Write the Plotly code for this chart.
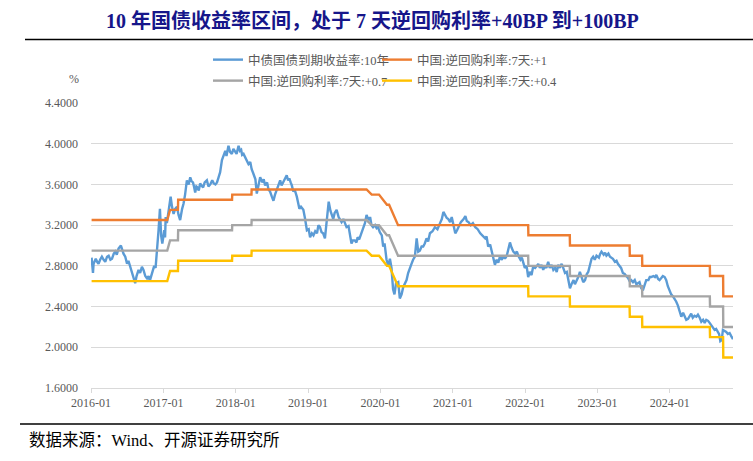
import plotly.graph_objects as go

# ---------------- data ----------------
title_text = "10 年国债收益率区间，处于 7 天逆回购利率+40BP 到+100BP"
source_text = "数据来源：Wind、开源证券研究所"

series_names = ["中债国债到期收益率:10年", "中国:逆回购利率:7天:+1",
                "中国:逆回购利率:7天:+0.7", "中国:逆回购利率:7天:+0.4"]
series_colors = ["#5b9bd5", "#ed7d31", "#a5a5a5", "#ffc000"]
repo_spreads = [1.0, 0.7, 0.4]

# 10Y CGB yield (date, %)
yield_2016 = [
    ("2016-01-04", 2.88), ("2016-01-08", 2.80), ("2016-01-11", 2.73), ("2016-01-14", 2.82),
    ("2016-01-18", 2.84), ("2016-01-25", 2.87), ("2016-02-01", 2.84), ("2016-02-08", 2.82),
    ("2016-02-16", 2.86), ("2016-02-25", 2.89), ("2016-03-05", 2.86), ("2016-03-13", 2.84),
    ("2016-03-22", 2.89), ("2016-03-30", 2.90), ("2016-04-08", 2.86), ("2016-04-16", 2.87),
    ("2016-04-25", 2.92), ("2016-05-03", 2.94), ("2016-05-10", 2.91), ("2016-05-19", 2.97),
    ("2016-05-31", 3.00), ("2016-06-06", 2.95), ("2016-06-13", 2.92), ("2016-06-22", 2.89),
    ("2016-07-01", 2.82), ("2016-07-08", 2.85), ("2016-07-17", 2.79), ("2016-07-25", 2.76),
    ("2016-08-03", 2.69), ("2016-08-11", 2.63), ("2016-08-18", 2.70), ("2016-08-28", 2.76),
    ("2016-09-05", 2.73), ("2016-09-14", 2.79), ("2016-09-22", 2.76), ("2016-10-01", 2.70),
    ("2016-10-12", 2.67), ("2016-10-18", 2.70), ("2016-10-25", 2.66), ("2016-11-04", 2.73),
    ("2016-11-15", 2.80), ("2016-11-22", 2.78), ("2016-11-29", 2.92), ("2016-12-07", 3.15),
    ("2016-12-14", 3.36), ("2016-12-20", 3.10), ("2016-12-26", 3.02),
]
yield_2017 = [
    ("2017-01-05", 3.15), ("2017-01-09", 3.08), ("2017-01-12", 3.28), ("2017-01-18", 3.22),
    ("2017-01-25", 3.32), ("2017-02-01", 3.40), ("2017-02-06", 3.48), ("2017-02-13", 3.38),
    ("2017-02-21", 3.31), ("2017-03-01", 3.36), ("2017-03-10", 3.38), ("2017-03-18", 3.30),
    ("2017-03-26", 3.25), ("2017-04-05", 3.36), ("2017-04-12", 3.41), ("2017-04-20", 3.50),
    ("2017-04-29", 3.64), ("2017-05-08", 3.60), ("2017-05-16", 3.67), ("2017-05-23", 3.63),
    ("2017-05-30", 3.62), ("2017-06-05", 3.57), ("2017-06-10", 3.52), ("2017-06-16", 3.58),
    ("2017-06-22", 3.57), ("2017-06-28", 3.54), ("2017-07-05", 3.61), ("2017-07-12", 3.59),
    ("2017-07-20", 3.57), ("2017-07-28", 3.62), ("2017-08-08", 3.64), ("2017-08-16", 3.58),
    ("2017-08-25", 3.60), ("2017-09-04", 3.64), ("2017-09-12", 3.61), ("2017-09-20", 3.60),
    ("2017-09-28", 3.62), ("2017-10-06", 3.67), ("2017-10-14", 3.72), ("2017-10-23", 3.84),
    ("2017-11-01", 3.88), ("2017-11-09", 3.93), ("2017-11-15", 3.88), ("2017-11-25", 3.98),
    ("2017-12-03", 3.92), ("2017-12-12", 3.90), ("2017-12-20", 3.95), ("2017-12-28", 3.93),
]
yield_2018 = [
    ("2018-01-05", 3.90), ("2018-01-15", 3.98), ("2018-01-22", 3.93), ("2018-01-28", 3.94),
    ("2018-02-02", 3.89), ("2018-02-09", 3.90), ("2018-02-20", 3.85), ("2018-03-06", 3.80),
    ("2018-03-15", 3.82), ("2018-03-22", 3.75), ("2018-03-30", 3.71), ("2018-04-10", 3.65),
    ("2018-04-17", 3.51), ("2018-04-22", 3.56), ("2018-04-28", 3.62), ("2018-05-04", 3.67),
    ("2018-05-15", 3.62), ("2018-05-22", 3.65), ("2018-05-29", 3.59), ("2018-06-08", 3.62),
    ("2018-06-15", 3.55), ("2018-06-23", 3.53), ("2018-07-02", 3.48), ("2018-07-10", 3.44),
    ("2018-07-18", 3.50), ("2018-07-26", 3.54), ("2018-08-05", 3.60), ("2018-08-13", 3.64),
    ("2018-08-20", 3.59), ("2018-08-28", 3.62), ("2018-09-07", 3.65), ("2018-09-15", 3.69),
    ("2018-09-22", 3.64), ("2018-09-28", 3.66), ("2018-10-05", 3.62), ("2018-10-11", 3.59),
    ("2018-10-18", 3.53), ("2018-10-25", 3.55), ("2018-11-05", 3.48), ("2018-11-12", 3.43),
    ("2018-11-18", 3.36), ("2018-11-26", 3.38), ("2018-12-08", 3.35), ("2018-12-16", 3.27),
    ("2018-12-26", 3.15),
]
yield_2019 = [
    ("2019-01-04", 3.16), ("2019-01-11", 3.08), ("2019-01-20", 3.12), ("2019-01-28", 3.10),
    ("2019-02-06", 3.14), ("2019-02-15", 3.12), ("2019-02-22", 3.20), ("2019-03-02", 3.18),
    ("2019-03-10", 3.13), ("2019-03-18", 3.12), ("2019-03-27", 3.07), ("2019-04-05", 3.25),
    ("2019-04-10", 3.33), ("2019-04-15", 3.43), ("2019-04-24", 3.34), ("2019-05-01", 3.30),
    ("2019-05-08", 3.26), ("2019-05-15", 3.32), ("2019-05-25", 3.35), ("2019-06-04", 3.28),
    ("2019-06-12", 3.25), ("2019-06-19", 3.23), ("2019-06-28", 3.26), ("2019-07-06", 3.22),
    ("2019-07-14", 3.18), ("2019-07-24", 3.19), ("2019-08-01", 3.10), ("2019-08-08", 3.02),
    ("2019-08-15", 3.05), ("2019-08-25", 3.05), ("2019-09-02", 3.03), ("2019-09-08", 3.08),
    ("2019-09-16", 3.06), ("2019-09-25", 3.12), ("2019-10-06", 3.17), ("2019-10-15", 3.22),
    ("2019-10-23", 3.30), ("2019-10-29", 3.27), ("2019-11-05", 3.25), ("2019-11-10", 3.28),
    ("2019-11-17", 3.20), ("2019-11-25", 3.18), ("2019-12-05", 3.20), ("2019-12-13", 3.17),
    ("2019-12-20", 3.18), ("2019-12-29", 3.13),
]
yield_2020 = [
    ("2020-01-08", 3.10), ("2020-01-15", 2.99), ("2020-01-22", 3.02), ("2020-02-01", 2.86),
    ("2020-02-10", 2.80), ("2020-02-18", 2.87), ("2020-02-26", 2.78), ("2020-03-05", 2.57),
    ("2020-03-12", 2.52), ("2020-03-20", 2.63), ("2020-03-31", 2.64), ("2020-04-08", 2.48),
    ("2020-04-17", 2.52), ("2020-04-25", 2.59), ("2020-05-03", 2.63), ("2020-05-12", 2.66),
    ("2020-05-20", 2.73), ("2020-05-29", 2.79), ("2020-06-06", 2.82), ("2020-06-14", 2.86),
    ("2020-06-23", 2.89), ("2020-07-02", 3.07), ("2020-07-10", 2.94), ("2020-07-18", 2.95),
    ("2020-07-27", 2.99), ("2020-08-04", 2.99), ("2020-08-12", 3.02), ("2020-08-21", 3.07),
    ("2020-08-29", 3.04), ("2020-09-07", 3.12), ("2020-09-20", 3.14), ("2020-10-02", 3.18),
    ("2020-10-15", 3.16), ("2020-10-28", 3.22), ("2020-11-06", 3.26), ("2020-11-14", 3.33),
    ("2020-11-22", 3.30), ("2020-12-01", 3.27), ("2020-12-09", 3.26), ("2020-12-18", 3.23),
    ("2020-12-26", 3.28),
]
yield_2021 = [
    ("2021-01-05", 3.18), ("2021-01-13", 3.12), ("2021-01-22", 3.15), ("2021-01-30", 3.18),
    ("2021-02-10", 3.23), ("2021-02-24", 3.26), ("2021-03-05", 3.29), ("2021-03-12", 3.24),
    ("2021-03-21", 3.23), ("2021-04-01", 3.20), ("2021-04-12", 3.22), ("2021-04-24", 3.18),
    ("2021-05-06", 3.16), ("2021-05-19", 3.12), ("2021-05-30", 3.10), ("2021-06-13", 3.07),
    ("2021-06-20", 3.09), ("2021-06-28", 2.99), ("2021-07-08", 3.01), ("2021-07-15", 2.95),
    ("2021-07-23", 2.89), ("2021-08-01", 2.81), ("2021-08-10", 2.86), ("2021-08-18", 2.83),
    ("2021-08-26", 2.89), ("2021-09-05", 2.86), ("2021-09-13", 2.90), ("2021-09-21", 2.87),
    ("2021-09-30", 2.90), ("2021-10-08", 2.96), ("2021-10-16", 3.03), ("2021-10-24", 2.98),
    ("2021-11-02", 2.94), ("2021-11-12", 2.92), ("2021-11-20", 2.94), ("2021-11-27", 2.90),
    ("2021-12-08", 2.86), ("2021-12-15", 2.88), ("2021-12-22", 2.84), ("2021-12-30", 2.78),
]
yield_2022 = [
    ("2022-01-08", 2.80), ("2022-01-16", 2.69), ("2022-01-24", 2.74), ("2022-02-02", 2.71),
    ("2022-02-10", 2.79), ("2022-02-20", 2.78), ("2022-03-01", 2.80), ("2022-03-08", 2.82),
    ("2022-03-16", 2.78), ("2022-03-24", 2.81), ("2022-04-02", 2.76), ("2022-04-10", 2.80),
    ("2022-04-18", 2.78), ("2022-04-27", 2.84), ("2022-05-05", 2.78), ("2022-05-14", 2.81),
    ("2022-05-23", 2.76), ("2022-06-01", 2.78), ("2022-06-09", 2.74), ("2022-06-17", 2.81),
    ("2022-06-25", 2.78), ("2022-07-04", 2.82), ("2022-07-12", 2.78), ("2022-07-21", 2.73),
    ("2022-07-30", 2.74), ("2022-08-06", 2.67), ("2022-08-15", 2.58), ("2022-08-25", 2.63),
    ("2022-09-02", 2.66), ("2022-09-09", 2.62), ("2022-09-20", 2.66), ("2022-09-28", 2.70),
    ("2022-10-04", 2.74), ("2022-10-12", 2.69), ("2022-10-21", 2.64), ("2022-10-30", 2.66),
    ("2022-11-08", 2.72), ("2022-11-15", 2.74), ("2022-11-22", 2.80), ("2022-12-02", 2.87),
    ("2022-12-10", 2.89), ("2022-12-18", 2.86), ("2022-12-27", 2.90),
]
yield_2023 = [
    ("2023-01-08", 2.88), ("2023-01-15", 2.92), ("2023-01-21", 2.94), ("2023-02-01", 2.91),
    ("2023-02-08", 2.93), ("2023-02-15", 2.90), ("2023-02-25", 2.92), ("2023-03-05", 2.89),
    ("2023-03-12", 2.88), ("2023-03-20", 2.87), ("2023-03-30", 2.84), ("2023-04-07", 2.85),
    ("2023-04-14", 2.82), ("2023-04-22", 2.80), ("2023-04-30", 2.78), ("2023-05-09", 2.73),
    ("2023-05-18", 2.72), ("2023-05-26", 2.70), ("2023-06-04", 2.68), ("2023-06-12", 2.65),
    ("2023-06-20", 2.66), ("2023-06-29", 2.64), ("2023-07-08", 2.66), ("2023-07-16", 2.62),
    ("2023-07-24", 2.63), ("2023-08-01", 2.64), ("2023-08-10", 2.58), ("2023-08-18", 2.56),
    ("2023-08-25", 2.60), ("2023-09-04", 2.66), ("2023-09-15", 2.66), ("2023-09-22", 2.69),
    ("2023-09-29", 2.69), ("2023-10-10", 2.70), ("2023-10-18", 2.69), ("2023-10-25", 2.71),
    ("2023-11-03", 2.67), ("2023-11-10", 2.66), ("2023-11-19", 2.68), ("2023-11-27", 2.70),
    ("2023-12-06", 2.69), ("2023-12-14", 2.66), ("2023-12-22", 2.60), ("2023-12-31", 2.56),
]
yield_2024 = [
    ("2024-01-08", 2.52), ("2024-01-17", 2.50), ("2024-01-25", 2.48), ("2024-02-02", 2.45),
    ("2024-02-11", 2.41), ("2024-02-20", 2.36), ("2024-02-28", 2.30), ("2024-03-08", 2.34),
    ("2024-03-16", 2.30), ("2024-03-24", 2.27), ("2024-04-02", 2.28), ("2024-04-10", 2.30),
    ("2024-04-18", 2.33), ("2024-04-26", 2.29), ("2024-05-05", 2.31), ("2024-05-14", 2.30),
    ("2024-05-22", 2.32), ("2024-05-31", 2.29), ("2024-06-08", 2.25), ("2024-06-17", 2.27),
    ("2024-06-25", 2.24), ("2024-07-03", 2.27), ("2024-07-12", 2.26), ("2024-07-20", 2.24),
    ("2024-07-28", 2.22), ("2024-08-05", 2.19), ("2024-08-14", 2.17), ("2024-08-22", 2.18),
    ("2024-08-31", 2.14), ("2024-09-06", 2.13), ("2024-09-12", 2.06), ("2024-09-19", 2.07),
    ("2024-09-25", 2.17), ("2024-10-04", 2.16), ("2024-10-12", 2.15), ("2024-10-20", 2.13),
    ("2024-10-29", 2.14), ("2024-11-06", 2.11), ("2024-11-15", 2.08),
]
yield_points = (yield_2016 + yield_2017 + yield_2018 + yield_2019 + yield_2020
                + yield_2021 + yield_2022 + yield_2023 + yield_2024)
yield_dates = [d for d, _ in yield_points]
yield_values = [v for _, v in yield_points]

# 7-day reverse repo rate observations (gaps in operations are bridged linearly)
repo_dates = [
    "2016-01-04", "2017-01-20", "2017-02-03", "2017-03-15", "2017-03-16",
    "2017-12-13", "2017-12-14", "2018-03-21", "2018-03-22", "2019-10-23",
    "2019-11-18", "2019-12-25", "2020-02-03", "2020-02-14", "2020-03-30",
    "2022-01-16", "2022-01-17", "2022-08-14", "2022-08-15", "2023-06-12",
    "2023-06-13", "2023-08-14", "2023-08-15", "2024-07-21", "2024-07-22",
    "2024-09-26", "2024-09-27", "2024-11-15",
]
repo_rates = [
    2.25, 2.25, 2.35, 2.35, 2.45,
    2.45, 2.50, 2.50, 2.55, 2.55,
    2.50, 2.50, 2.40, 2.40, 2.20,
    2.20, 2.10, 2.10, 2.00, 2.00,
    1.90, 1.90, 1.80, 1.80, 1.70,
    1.70, 1.50, 1.50,
]

y_tick_values = [1.6, 2.0, 2.4, 2.8, 3.2, 3.6, 4.0, 4.4]
x_tick_dates = ["2016-01-01", "2017-01-01", "2018-01-01", "2019-01-01", "2020-01-01",
                "2021-01-01", "2022-01-01", "2023-01-01", "2024-01-01"]
x_tick_labels = ["2016-01", "2017-01", "2018-01", "2019-01", "2020-01",
                 "2021-01", "2022-01", "2023-01", "2024-01"]
x_range = ["2016-01-01", "2024-11-15"]

# ---------------- layout geometry ----------------
W, H = 753, 461
L, R, T, B = 91, 20, 103, 73
PW, PH = W - L - R, H - T - B


def px(x):
    return (x - L) / PW


def py(y):
    return (H - B - y) / PH


SERIF = "Liberation Serif, Noto Sans CJK SC, serif"
GREY_TXT = "#595959"

fig = go.Figure()
fig.add_trace(go.Scatter(x=yield_dates, y=yield_values, mode="lines",
                         name=series_names[0], legend="legend", legendwidth=124,
                         line=dict(color=series_colors[0], width=2.4)))
legend_ids = ["legend", "legend2", "legend2"]
legend_widths = [160, 124, 160]
for i, sp in enumerate(repo_spreads):
    fig.add_trace(go.Scatter(x=repo_dates, y=[round(r + sp, 4) for r in repo_rates],
                             mode="lines", name=series_names[i + 1],
                             legend=legend_ids[i], legendwidth=legend_widths[i],
                             line=dict(color=series_colors[i + 1], width=2.4)))

legend_common = dict(orientation="h", xanchor="left", yanchor="middle",
                     bgcolor="rgba(0,0,0,0)",
                     font=dict(family=SERIF, size=12.5, color=GREY_TXT),
                     itemclick=False, itemdoubleclick=False)

fig.update_layout(
    width=W, height=H,
    margin=dict(l=L, r=R, t=T, b=B, autoexpand=False),
    paper_bgcolor="white", plot_bgcolor="white",
    legend=dict(x=px(208), y=py(60), **legend_common),
    legend2=dict(x=px(208), y=py(81), **legend_common),
    xaxis=dict(type="date", range=x_range, tickvals=x_tick_dates, ticktext=x_tick_labels,
               showgrid=False, showline=True, linecolor="#d9d9d9", linewidth=1,
               ticks="outside", ticklen=4, tickcolor="#d9d9d9",
               tickfont=dict(family=SERIF, size=12, color=GREY_TXT), zeroline=False),
    yaxis=dict(range=[1.6, 4.4], tickvals=y_tick_values, tickformat=".4f",
               showgrid=True, gridcolor="#d9d9d9", gridwidth=1, showline=False,
               zeroline=False, ticks="", ticklabelstandoff=12,
               tickfont=dict(family=SERIF, size=12, color=GREY_TXT)),
    annotations=[
        dict(text="<b>" + title_text + "</b>", xref="paper", yref="paper",
             x=px(372), y=py(20), xanchor="center", yanchor="middle", showarrow=False,
             font=dict(family=SERIF, size=20, color="#16168a")),
        dict(text="%", xref="paper", yref="paper", x=px(74), y=py(79),
             xanchor="center", yanchor="middle", showarrow=False,
             font=dict(family=SERIF, size=12, color=GREY_TXT)),
        dict(text=source_text, xref="paper", yref="paper", x=px(27), y=py(440),
             xanchor="left", yanchor="middle", showarrow=False,
             font=dict(family=SERIF, size=16.5, color="#000000")),
    ],
    shapes=[
        dict(type="line", xref="paper", yref="paper", x0=px(25), x1=px(753),
             y0=py(39.5), y1=py(39.5), line=dict(color="#000000", width=1.5)),
        dict(type="line", xref="paper", yref="paper", x0=px(20), x1=px(753),
             y0=py(424), y1=py(424), line=dict(color="#000000", width=1.5)),
    ],
)

fig.write_html("out.html",
               config={"displayModeBar": False},
               post_script="document.body.style.margin='0';"
                           "document.body.style.overflow='hidden';")
